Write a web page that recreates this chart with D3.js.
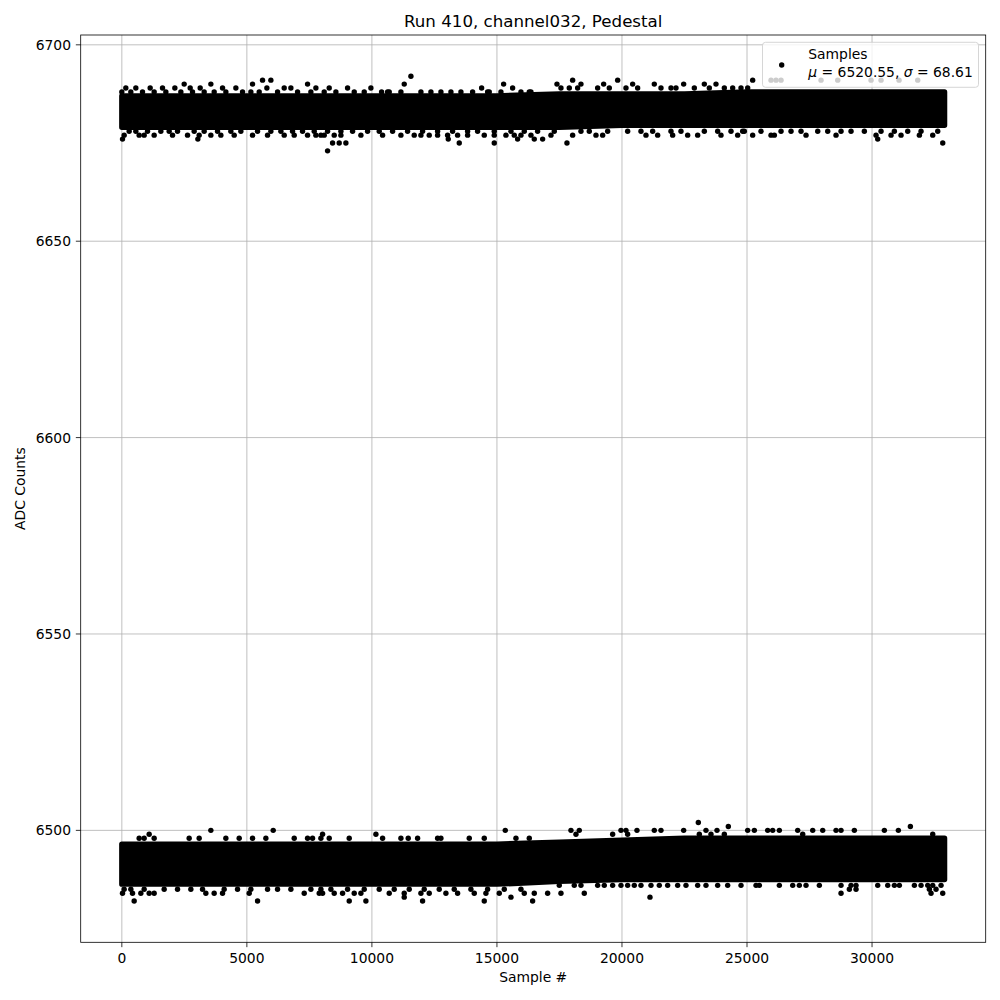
<!DOCTYPE html>
<html>
<head>
<meta charset="utf-8">
<script src="https://cdn.jsdelivr.net/npm/d3@7"></script>
<style>
  html, body { margin: 0; padding: 0; background: #ffffff; }
  svg text { font-family: "DejaVu Sans", sans-serif; fill: #000; }
</style>
</head>
<body>
<svg id="chart" width="1000" height="1000"></svg>
<script>
// ---------------- data ----------------
const titleText = "Run 410, channel032, Pedestal";
const xLabel = "Sample #";
const yLabel = "ADC Counts";
const xTicks = [0, 5000, 10000, 15000, 20000, 25000, 30000];
const yTicks = [6500, 6550, 6600, 6650, 6700];
const sampleRange = [0, 32900];
const valueRange = [6482, 6692];
const legendLabel = "Samples";
const meanValue = 6520.55;
const sigmaValue = 68.61;

// dense cores of the two bands (per sample bin, centre values)
const coreSamples = [0, 2500, 5000, 7500, 10000, 12500, 15000, 17500, 20000, 22500, 25000, 27500, 30000, 32900];
const topCoreHi = [6687, 6687, 6687, 6687, 6687, 6687, 6687, 6687.5, 6687.5, 6687.5, 6688, 6688, 6688, 6688];
const topCoreLo = [6679, 6679, 6679, 6679, 6679, 6679, 6679, 6679, 6679.5, 6679.5, 6679.5, 6679.5, 6679.5, 6679.5];
const botCoreHi = [6496.5, 6496.5, 6496.5, 6496.5, 6496.5, 6496.5, 6496.5, 6497, 6497.5, 6498, 6498, 6498, 6498, 6498];
const botCoreLo = [6486.3, 6486.3, 6486.3, 6486.3, 6486.3, 6486.3, 6486.3, 6487, 6487.5, 6487.5, 6487.5, 6487.5, 6487.5, 6487.5];

// sparse samples outside the cores: ADC level -> sample numbers
const topFringe = [
  { v: 6692, s: [11560] },
  { v: 6691, s: [5627, 5960, 18027, 19827, 25227, 25960, 26160, 26360, 27960, 28627, 29960, 30360, 31080, 31827] },
  { v: 6690, s: [2493, 3560, 5227, 7427, 11293, 15267, 17400, 18360, 19267, 20427, 21293, 22467, 23293, 23760] },
  { v: 6689, s: [160, 560, 1133, 1627, 2120, 2733, 3133, 4027, 4560, 5800, 6493, 6760, 7760, 8293, 9027, 9960, 14387, 15627, 17560, 17893, 18227, 19027, 19493, 20160, 20627, 21560, 21960, 22160, 22893, 23493, 24093, 24427, 24760, 25027] },
  { v: 6688, s: [0, 360, 827, 1293, 1760, 2360, 2827, 3293, 3693, 4160, 4827, 5160, 5493, 6227, 7027, 7560, 8093, 8560, 9293, 9693, 10387, 10627, 10693, 11160, 11960, 12360, 12760, 13160, 13560, 14027, 14627, 14693, 15160, 15960, 16293, 16360] },
  { v: 6678, s: [293, 560, 1027, 1560, 1893, 2227, 2893, 3293, 3827, 4360, 4760, 5427, 5960, 6360, 6827, 7227, 7693, 8227, 8760, 9227, 9827, 10293, 10827, 11427, 12027, 12627, 13227, 13827, 14227, 14893, 15560, 16093, 16627, 17293, 18360, 18693, 19427, 20227, 20760, 21227, 21960, 22360, 23293, 23827, 24360, 24827, 24893, 25560, 26360, 26760, 27160, 27827, 28227, 28760, 29160, 29693, 30360, 30893, 31427, 31960, 32627] },
  { v: 6677, s: [93, 693, 893, 1293, 2027, 2627, 3093, 3560, 3960, 4493, 5227, 5827, 6493, 6893, 7427, 7760, 7960, 8093, 8493, 8760, 9560, 10427, 11160, 11693, 11960, 12293, 12627, 13027, 13427, 13827, 14493, 14893, 15360, 15693, 15960, 16360, 17160, 18027, 18960, 19227, 20960, 21427, 22027, 22627, 23027, 23960, 24627, 25227, 25960, 26093, 27360, 28560, 30160, 30760, 31160, 31893, 32427] },
  { v: 6676, s: [27, 3040, 13053, 15827, 16493, 16827, 30227] },
  { v: 6675, s: [8427, 8693, 8960, 13493, 14893, 17800, 32827] },
  { v: 6673, s: [8227] }
];
const botFringe = [
  { v: 6502, s: [23053] },
  { v: 6501, s: [24253, 31533] },
  { v: 6500, s: [3560, 6053, 15333, 17960, 18293, 19960, 20160, 20600, 21293, 21560, 22467, 23360, 23800, 25027, 25293, 25827, 26027, 26293, 27027, 27627, 28027, 28560, 28760, 29293, 30493, 31053] },
  { v: 6499, s: [1093, 8027, 10160, 18160, 19627, 20227, 23093, 23560, 24093, 27227, 32427] },
  { v: 6498, s: [693, 893, 1293, 2693, 3093, 4160, 4693, 5227, 5760, 6893, 7427, 7627, 7960, 8293, 9093, 10427, 11160, 11453, 11827, 12627, 12760, 13893, 14493, 15760, 16293] },
  { v: 6486, s: [17493, 18093, 18360, 19027, 19293, 19627, 19960, 20227, 20493, 20760, 21160, 21493, 21827, 22227, 22560, 23027, 23360, 23827, 24227, 24760, 25360, 25493, 26293, 26827, 27093, 27360, 27893, 28760, 29160, 29360, 30227, 30627, 30893, 31093, 31693, 31960, 32227, 32427, 32760] },
  { v: 6485, s: [93, 360, 893, 1693, 2227, 2760, 3227, 4093, 4627, 5160, 5827, 6227, 6760, 7560, 7960, 8360, 9027, 9693, 10293, 10893, 11493, 12093, 12693, 13293, 13960, 14627, 15293, 15960, 29093, 29360, 32293, 32560] },
  { v: 6484, s: [27, 427, 760, 1093, 1293, 3360, 3693, 4027, 5093, 7293, 7893, 8027, 8493, 8827, 9293, 9560, 10693, 11293, 11960, 12293, 12960, 13427, 14093, 14560, 15093, 16093, 16493, 17027, 17560, 18493, 28760, 32360, 32827] },
  { v: 6483, s: [11293, 15560, 21120] },
  { v: 6482, s: [493, 5427, 9093, 9760, 12027, 14493, 16427] }
];

// ---------------- layout ----------------
const svg = d3.select("#chart");
const L = 80.7, R = 985.7, T = 35, B = 942.3;
const dotR = 2.7;
const fs = 13.89;

const xPad = (sampleRange[1] - sampleRange[0]) * 0.05;
const yPad = (valueRange[1] - valueRange[0]) * 0.05;
const x = d3.scaleLinear().domain([sampleRange[0] - xPad, sampleRange[1] + xPad]).range([L, R]);
const y = d3.scaleLinear().domain([valueRange[0] - yPad, valueRange[1] + yPad]).range([B, T]);

// grid
const grid = svg.append("g");
grid.selectAll("line.gx").data(xTicks).enter().append("line")
  .attr("x1", d => x(d)).attr("x2", d => x(d)).attr("y1", T).attr("y2", B)
  .attr("stroke", "#b0b0b0").attr("stroke-width", 0.8);
grid.selectAll("line.gy").data(yTicks).enter().append("line")
  .attr("x1", L).attr("x2", R).attr("y1", d => y(d)).attr("y2", d => y(d))
  .attr("stroke", "#b0b0b0").attr("stroke-width", 0.8);

// bands
const plot = svg.append("g");
function drawCore(hi, lo) {
  const rows = coreSamples.map((s, i) => ({ s, hi: hi[i], lo: lo[i] }));
  const area = d3.area().x(d => x(d.s)).y0(d => y(d.lo)).y1(d => y(d.hi));
  plot.append("path").attr("d", area(rows))
    .attr("fill", "#000").attr("stroke", "#000")
    .attr("stroke-width", dotR * 2).attr("stroke-linejoin", "round");
}
drawCore(topCoreHi, topCoreLo);
drawCore(botCoreHi, botCoreLo);

function drawFringe(rows) {
  const pts = [];
  rows.forEach(r => r.s.forEach(s => pts.push([s, r.v])));
  plot.selectAll(null).data(pts).enter().append("circle")
    .attr("cx", d => x(d[0])).attr("cy", d => y(d[1])).attr("r", dotR).attr("fill", "#000");
}
drawFringe(topFringe);
drawFringe(botFringe);

// spines
svg.append("rect").attr("x", L).attr("y", T).attr("width", R - L).attr("height", B - T)
  .attr("fill", "none").attr("stroke", "#000").attr("stroke-width", 0.8);

// x axis ticks
const xt = svg.append("g");
xt.selectAll("line").data(xTicks).enter().append("line")
  .attr("x1", d => x(d)).attr("x2", d => x(d)).attr("y1", B).attr("y2", B + 4.86)
  .attr("stroke", "#000").attr("stroke-width", 0.8);
xt.selectAll("text").data(xTicks).enter().append("text")
  .attr("x", d => x(d)).attr("y", B + 9.72 + 10.6).attr("text-anchor", "middle")
  .attr("font-size", fs).text(d => d);

// y axis ticks
const yt = svg.append("g");
yt.selectAll("line").data(yTicks).enter().append("line")
  .attr("x1", L - 4.86).attr("x2", L).attr("y1", d => y(d)).attr("y2", d => y(d))
  .attr("stroke", "#000").attr("stroke-width", 0.8);
yt.selectAll("text").data(yTicks).enter().append("text")
  .attr("x", L - 9.72).attr("y", d => y(d) + 5).attr("text-anchor", "end")
  .attr("font-size", fs).text(d => d);

// labels
svg.append("text").attr("x", (L + R) / 2).attr("y", 982).attr("text-anchor", "middle")
  .attr("font-size", fs).text(xLabel);
svg.append("text").attr("transform", `translate(25,${(T + B) / 2}) rotate(-90)`)
  .attr("text-anchor", "middle").attr("font-size", fs).text(yLabel);
svg.append("text").attr("x", (L + R) / 2).attr("y", 26.7).attr("text-anchor", "middle")
  .attr("font-size", 16.67).text(titleText);

// legend
const lg = svg.append("g");
lg.append("rect").attr("x", 762.5).attr("y", 42.3).attr("width", 216).attr("height", 45)
  .attr("rx", 3).attr("fill", "#fff").attr("fill-opacity", 0.8)
  .attr("stroke", "#cccccc").attr("stroke-width", 0.8);
lg.append("circle").attr("cx", 781.7).attr("cy", 65).attr("r", dotR).attr("fill", "#000");
lg.append("text").attr("x", 808.3).attr("y", 59).attr("font-size", fs).text(legendLabel);
const t2 = lg.append("text").attr("x", 808.3).attr("y", 76.5).attr("font-size", fs);
t2.append("tspan").attr("font-style", "italic").text("μ");
t2.append("tspan").text(` = ${meanValue.toFixed(2)}, `);
t2.append("tspan").attr("font-style", "italic").text("σ");
t2.append("tspan").text(` = ${sigmaValue.toFixed(2)}`);
</script>
</body>
</html>
